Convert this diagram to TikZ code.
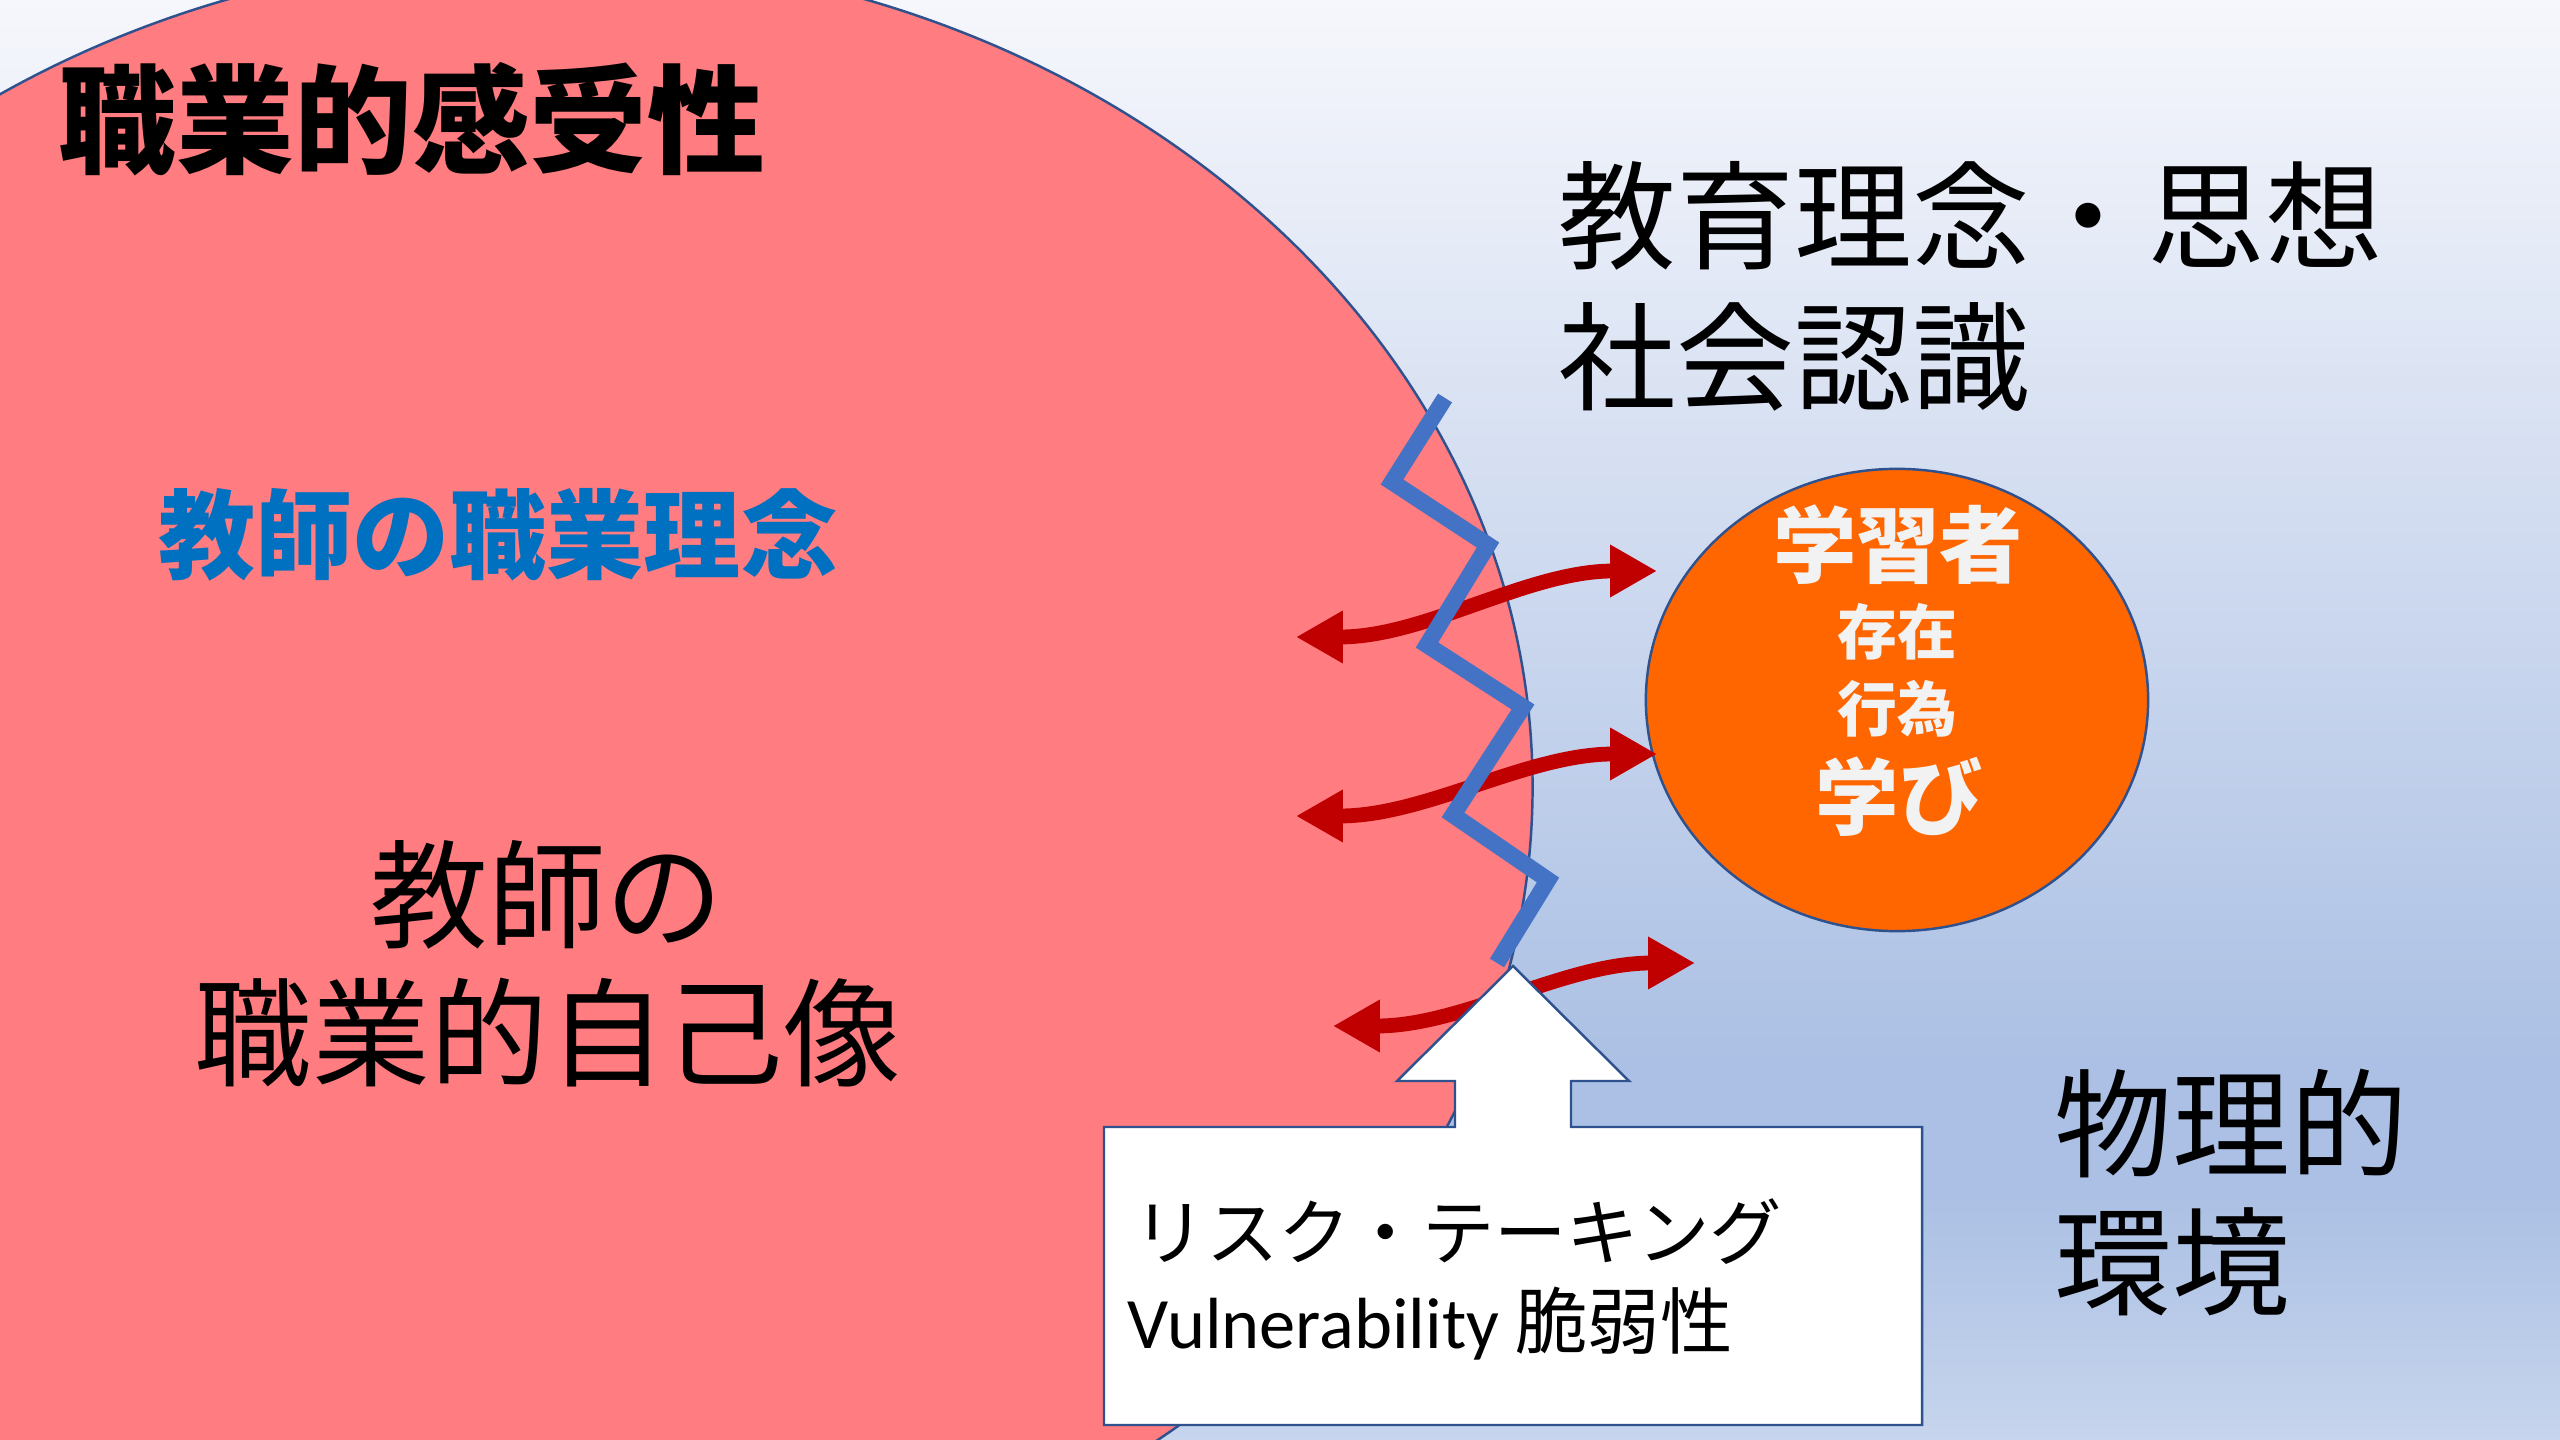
\documentclass[tikz,border=0pt]{standalone}
\usepackage{fontspec}
\setmainfont{Noto Sans CJK JP}
\newfontfamily\carlito{Carlito}
\usetikzlibrary{arrows.meta}
\definecolor{bgtop}{RGB}{246,247,252}
\definecolor{bgmid}{RGB}{171,192,228}
\definecolor{bgbot}{RGB}{199,213,237}
\definecolor{pinkfill}{HTML}{FF7C80}
\definecolor{edgeblue}{HTML}{2F528F}
\definecolor{zigblue}{HTML}{4472C4}
\definecolor{redarr}{HTML}{C00000}
\definecolor{orangefill}{HTML}{FF6600}
\definecolor{txtblue}{HTML}{0070C0}
\definecolor{offwhite}{HTML}{F2F2F2}
\tikzset{
  big/.style={inner sep=0pt, font=\fontsize{33.5pt}{40pt}\selectfont},
  redarrow/.style={draw=redarr, line width=4.2pt,
    {Triangle[length=13.3pt,width=14pt]}-{Triangle[length=13.3pt,width=14pt]}},
  zigline/.style={draw=zigblue, line width=4.7pt, line join=miter},
  edge/.style={draw=edgeblue, line width=0.7pt},
  intext/.style={inner sep=0pt, text=offwhite, font=\bfseries\fontsize{23.7pt}{28pt}\selectfont},
  insmall/.style={inner sep=0pt, text=offwhite, font=\bfseries\fontsize{17pt}{20pt}\selectfont}
}
\begin{document}
\begin{tikzpicture}[x=0.01cm,y=-0.01cm]
\useasboundingbox (0,0) rectangle (2560,1440);
% background gradient
\shade[top color=bgtop, bottom color=bgmid] (0,0) rectangle (2560,1066);
\fill[bgmid] (0,1065) rectangle (2560,1196);
\shade[top color=bgmid, bottom color=bgbot] (0,1195) rectangle (2560,1440);
% big pink ellipse
\begin{scope}
\clip (0,0) rectangle (2560,1440);
\draw[edge, fill=pinkfill] (546.5,787) ellipse [x radius=9.855cm, y radius=8.316cm];
\end{scope}
% learner circle
\draw[edge, fill=orangefill] (1897,700) ellipse [x radius=2.51cm, y radius=2.31cm];
\node[intext] (learner) at (1898,545) {学習者};
\node[insmall] (exist) at (1897,632) {存在};
\node[insmall] (act) at (1897,709) {行為};
\node[intext] (manabi) at (1899,797) {学び};
% red double arrows
\coordinate (a1l) at (1296,637);
\coordinate (a1r) at (1657,571);
\coordinate (a2l) at (1296,816);
\coordinate (a2r) at (1657,754);
\coordinate (a3l) at (1333,1026);
\coordinate (a3r) at (1695,963);
\draw[redarrow] (a1l) .. controls +(130,0) and +(-130,0) .. (a1r);
\draw[redarrow] (a2l) .. controls +(130,0) and +(-130,0) .. (a2r);
\draw[redarrow] (a3l) .. controls +(130,0) and +(-130,0) .. (a3r);
% zigzag
\coordinate (z0) at (1445,398);
\coordinate (z1) at (1392,482);
\coordinate (z2) at (1488,545);
\coordinate (z3) at (1427,645);
\coordinate (z4) at (1523,707);
\coordinate (z5) at (1453,815);
\coordinate (z6) at (1548,880);
\coordinate (z7) at (1497,963);
\draw[zigline] (z0) -- (z1) -- (z2) -- (z3) -- (z4) -- (z5) -- (z6) -- (z7);
% callout
\coordinate (ctip) at (1513,966);
\draw[edge, fill=white, line join=miter] (1104,1127) -- (1455,1127) -- (1455,1081) -- (1397,1081) -- (ctip) -- (1629,1081) -- (1571,1081) -- (1571,1127) -- (1922,1127) -- (1922,1425) -- (1104,1425) -- cycle;
\node[inner sep=0pt, anchor=west, font=\fontsize{20.6pt}{24pt}\selectfont] (risk) at (1133,1232) {リスク・テーキング};
\node[inner sep=0pt, anchor=base west, font=\fontsize{20.6pt}{24pt}\selectfont] (vuln) at (1127,1348) {{\carlito Vulnerability} 脆弱性};
% texts
\node[big, anchor=west, font=\bfseries\fontsize{33.5pt}{40pt}\selectfont] (title) at (58,119) {職業的感受性};
\node[big, anchor=west] (idea1) at (1558,216) {教育理念・思想};
\node[big, anchor=west] (idea2) at (1558,357) {社会認識};
\node[inner sep=0pt, anchor=west, text=txtblue, font=\bfseries\fontsize{27.6pt}{32pt}\selectfont] (rinen) at (158,535) {教師の職業理念};
\node[big] (self1) at (547,895) {教師の};
\node[big] (self2) at (548,1033) {職業的自己像};
\node[big, anchor=west] (phys1) at (2054,1123) {物理的};
\node[big, anchor=west] (phys2) at (2054,1262) {環境};
\end{tikzpicture}
\end{document}
